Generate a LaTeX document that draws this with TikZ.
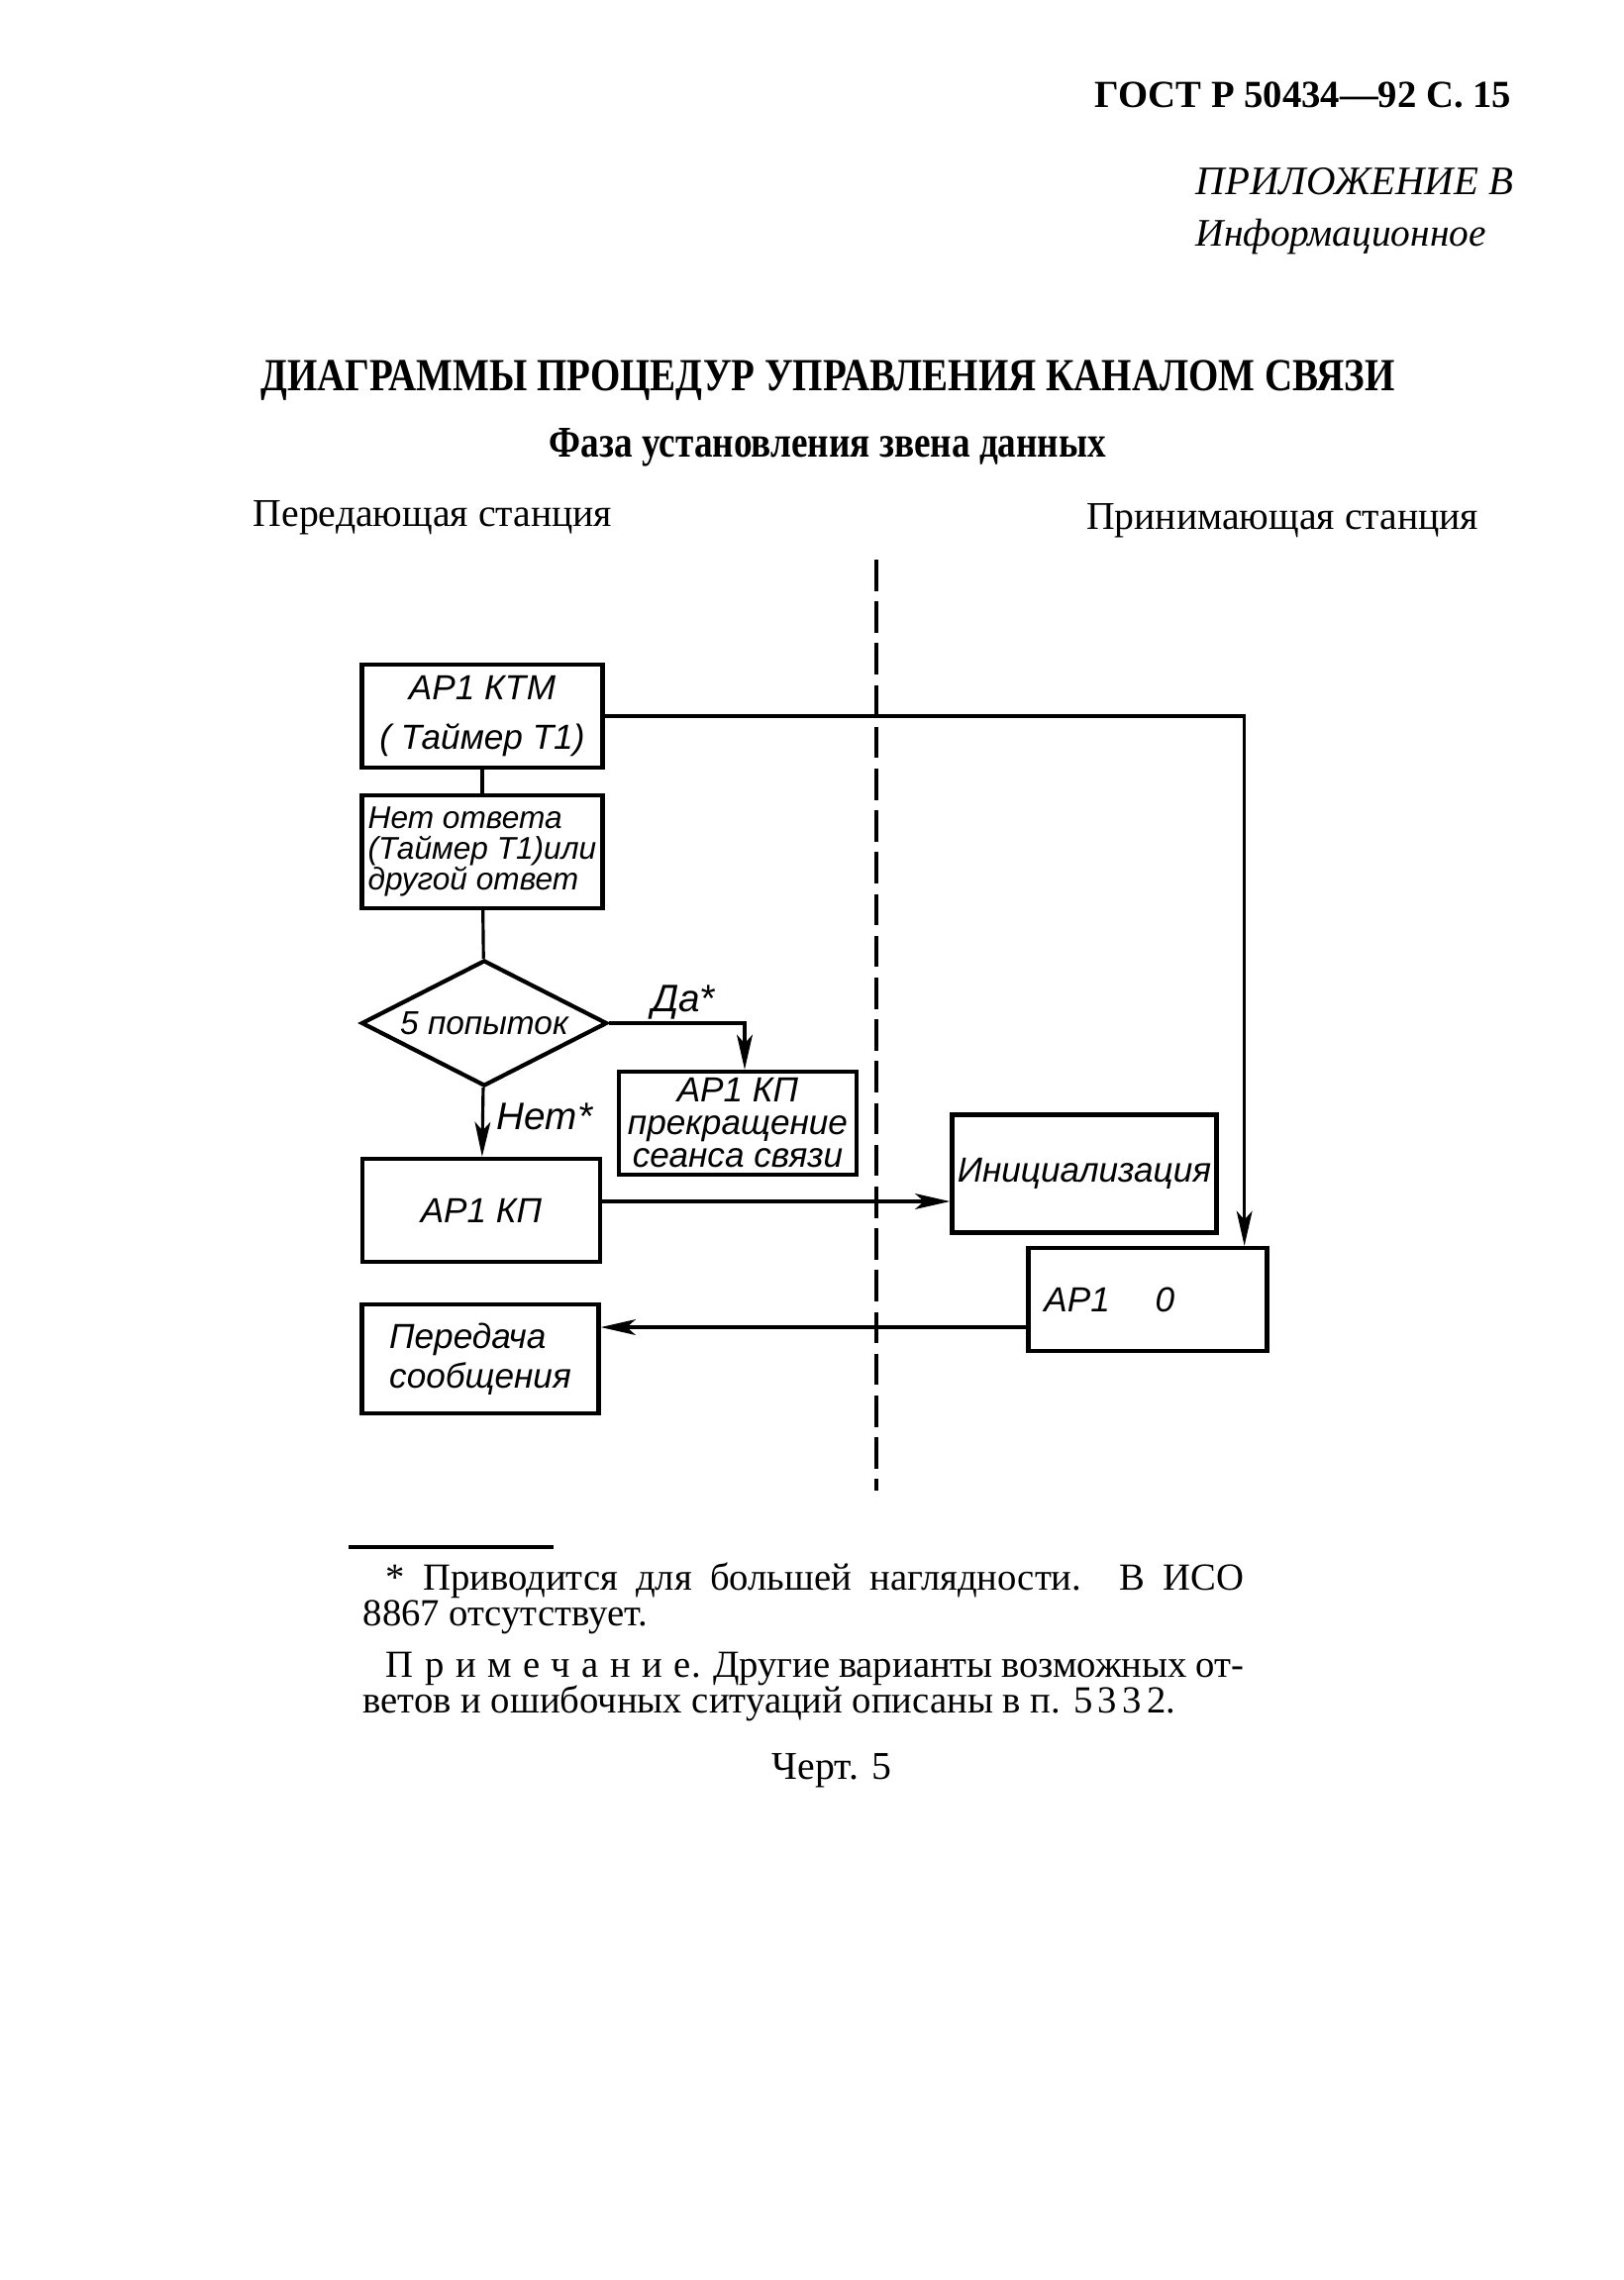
\documentclass[tikz,border=0pt]{standalone}
\usepackage{fontspec}
\setmainfont{Liberation Serif}
\newfontfamily\gostfont{Liberation Sans}
\newfontfamily\zagfont{Liberation Serif}[FakeStretch=0.84]
\usetikzlibrary{shapes.geometric,arrows.meta}

\begin{document}
\begin{tikzpicture}[x=0.01cm,y=-0.01cm,
        blok/.style={draw,line width=1.2pt,inner sep=1pt,align=center,
            font=\gostfont\itshape\fontsize{10}{12}\selectfont},
        romb/.style={blok,diamond,aspect=1.95,inner sep=0pt,minimum width=2.48cm,minimum height=1.27cm},
        liniya/.style={line width=0.9pt},
        strelka/.style={liniya,-{Stealth[length=10pt,width=4.5pt,inset=2.5pt]}},
        podpis/.style={inner sep=0pt,font=\gostfont\itshape\fontsize{11}{13}\selectfont},
        tekst/.style={inner sep=0pt,font=\fontsize{11.3}{14}\selectfont},
        snoska/.style={inner sep=0pt,font=\fontsize{11}{12}\selectfont}]
        \useasboundingbox (0,0) rectangle (1640,2302);

        \node[tekst,anchor=base east,font=\bfseries\fontsize{11}{13}\selectfont] (gost) at (1527,108) {ГОСТ Р 50434—92 С. 15};
        \node[tekst,anchor=base west,font=\itshape\fontsize{11.6}{14}\selectfont] (pril) at (1207,196) {ПРИЛОЖЕНИЕ В};
        \node[tekst,anchor=base west,font=\itshape\fontsize{11.2}{14}\selectfont] (inf) at (1207,248) {Информационное};
        \node[tekst,anchor=base,font=\zagfont\bfseries\fontsize{13.2}{15}\selectfont] (zag) at (836,394) {ДИАГРАММЫ ПРОЦЕДУР УПРАВЛЕНИЯ КАНАЛОМ СВЯЗИ};
        \node[tekst,anchor=base,font=\zagfont\bfseries\fontsize{12.6}{14}\selectfont] (faza) at (836,461) {Фаза установления звена данных};
        \node[tekst,anchor=base west] (pered) at (255,531) {Передающая станция};
        \node[tekst,anchor=base east] (prin) at (1494,534) {Принимающая станция};

        \coordinate (rz) at (885,565);
        \coordinate (rn) at (885,1505);
        \draw[line width=1.1pt,dash pattern=on 9pt off 3pt] (rz) -- (rn);

        \node[blok,minimum width=2.43cm,minimum height=1.04cm] (ktm) at (487,723) {АР1 КТМ\\[2pt]( Таймер Т1)};
        \node[blok,minimum width=2.43cm,minimum height=1.14cm,align=left,
            font=\gostfont\itshape\fontsize{9}{8.8}\selectfont] (netotv) at (487,860) {Нет ответа\\(Таймер Т1)или\\другой ответ};
        \node[romb,font=\gostfont\itshape\fontsize{9.5}{11}\selectfont] (popytki) at (489,1033) {5 попыток};
        \node[blok,minimum width=2.40cm,minimum height=1.04cm,
            font=\gostfont\itshape\fontsize{10}{9.4}\selectfont] (razryv) at (745,1134) {АР1 КП\\прекращение\\сеанса связи};
        \node[blok,minimum width=2.40cm,minimum height=1.04cm] (kp) at (486,1222) {АР1 КП};
        \node[blok,minimum width=2.67cm,minimum height=1.19cm] (init) at (1095,1185) {Инициализация};
        \node[blok,minimum width=2.41cm,minimum height=1.04cm] (otvet) at (1159,1312) {АР1\hspace{1.3em}0\hspace{2.2em}};
        \node[blok,minimum width=2.39cm,minimum height=1.10cm,align=left,
            font=\gostfont\itshape\fontsize{10}{11.3}\selectfont] (peredacha) at (485,1372) {Передача\\сообщения};

        \node[podpis] (da) at (690,1012) {Да*};
        \node[podpis] (net) at (550,1127) {Нет*};

        \draw[liniya] (ktm) -- (netotv);
        \draw[liniya] (netotv) -- (popytki);
        \draw[strelka] (popytki.east) -| ([xshift=0.07cm]razryv.north);
        \draw[strelka] (popytki) -- (kp);
        \coordinate (kpvyh) at ([yshift=0.09cm]kp.east);
        \draw[strelka] (kpvyh) -- (kpvyh -| init.west);
        \draw[strelka] (ktm.east) -| ([xshift=-0.25cm]otvet.north east);
        \coordinate (otvyh) at ([yshift=-0.28cm]otvet.west);
        \draw[strelka] (otvyh) -- (otvyh -| peredacha.east);

        \draw[line width=1pt] (352,1562) -- (559,1562);
        \node[snoska,anchor=base west] (prim1) at (389,1605) {\makebox[8.66cm][s]{* Приводится для большей наглядности. В ИСО}};
        \node[snoska,anchor=base west] (prim2) at (366,1641) {8867 отсутствует.};
        \node[snoska,anchor=base west] (prim3) at (389,1693) {\makebox[8.66cm][s]{{\addfontfeature{LetterSpace=30}Примечание}. Другие варианты возможных от-}};
        \node[snoska,anchor=base west] (prim4) at (366,1729) {ветов и ошибочных ситуаций описаны в п. {\addfontfeature{LetterSpace=14}5332}.};
        \node[tekst,anchor=base] (chert) at (840,1796) {Черт. 5};
    \end{tikzpicture}
\end{document}
